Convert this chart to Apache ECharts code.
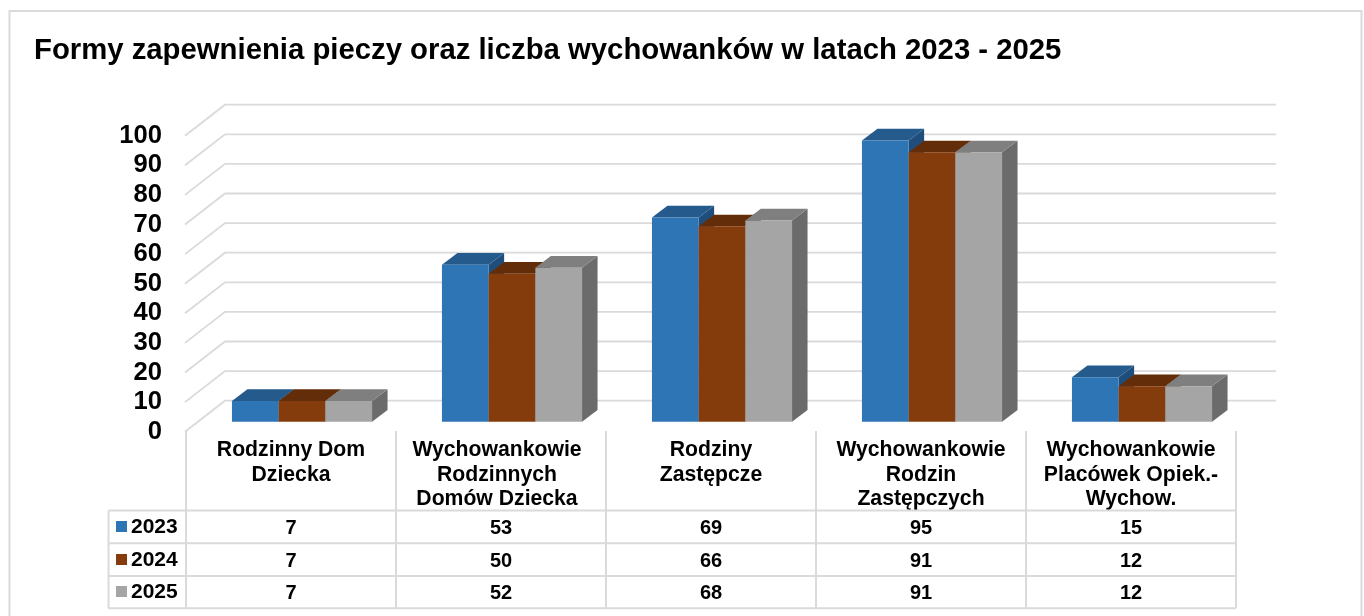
<!DOCTYPE html>
<html>
<head>
<meta charset="utf-8">
<style>html,body{margin:0;padding:0;background:#fff;overflow:hidden}#c{width:1364px;height:616px}</style>
<script src="https://cdn.jsdelivr.net/npm/echarts@6/dist/echarts.min.js"></script>
</head>
<body>
<div id="c"></div>
<script>
const titleText = 'Formy zapewnienia pieczy oraz liczba wychowanków w latach 2023 - 2025';
const categories = ['Rodzinny Dom\nDziecka', 'Wychowankowie\nRodzinnych\nDomów Dziecka', 'Rodziny\nZastępcze', 'Wychowankowie\nRodzin\nZastępczych', 'Wychowankowie\nPlacówek Opiek.-\nWychow.'];
const seriesNames = ['2023', '2024', '2025'];
const values2023 = [7, 53, 69, 95, 15];
const values2024 = [7, 50, 66, 91, 12];
const values2025 = [7, 52, 68, 91, 12];
const tickValues = [0, 10, 20, 30, 40, 50, 60, 70, 80, 90, 100];

const allValues = [values2023, values2024, values2025];
const frontColors = ['#2E75B6', '#843C0C', '#A5A5A5'];
const topColors = ['#245A8C', '#632D09', '#7F7F7F'];
const sideColors = ['#1F4E7D', '#5A2A08', '#6B6B6B'];
const FONT = '"Liberation Sans", Arial, sans-serif';
const LINE = '#DADADA';

const wallDx = 40, wallDy = 31;      // depth of the plot floor
const barDx = 15.5, barDy = 11.7;    // depth of a bar
const barShiftX = 11, barShiftY = -10; // bar plane behind the axis plane
const barWidth = 46.7;
const rowY = [528, 561, 593];
const tableLines = { left: 108.5, axis: 186, top: 431, head: 510.5, rows: [543.3, 576, 608.3] };

function faceStyle(fill) { return { fill: fill, stroke: null }; }

function renderBars(s) {
  return function (params, api) {
    const c = api.coord([api.value(0), api.value(1)]);
    const base = api.coord([api.value(0), 0]);
    const x = c[0] + barShiftX - 1.5 * barWidth + s * barWidth;
    const xr = x + barWidth;
    const yt = c[1] + barShiftY;
    const yb = base[1] + barShiftY;
    return {
      type: 'group',
      children: [
        { type: 'polygon', shape: { points: [[xr, yb], [xr + barDx, yb - barDy], [xr + barDx, yt - barDy], [xr, yt]] }, style: faceStyle(sideColors[s]) },
        { type: 'polygon', shape: { points: [[x, yt], [x + barDx, yt - barDy], [xr + barDx, yt - barDy], [xr, yt]] }, style: faceStyle(topColors[s]) },
        { type: 'rect', shape: { x: x, y: yt, width: barWidth, height: yb - yt }, style: faceStyle(frontColors[s]) },
        { type: 'text', style: { x: c[0], y: rowY[s], text: String(api.value(1)), fill: '#000', font: 'bold 20px ' + FONT, textAlign: 'center', textVerticalAlign: 'middle' } }
      ]
    };
  };
}

function renderWall(params, api) {
  const g = params.coordSys;
  const y = api.coord([0, api.value(0)])[1];
  return {
    type: 'polyline',
    shape: { points: [[g.x - 1, y], [g.x + wallDx - 1, y - wallDy], [g.x + g.width + wallDx, y - wallDy]] },
    style: { fill: null, stroke: LINE, lineWidth: 1.8 }
  };
}

const graphics = [
  { type: 'rect', shape: { x: 9.5, y: 11, width: 1352, height: 640 }, style: { fill: null, stroke: '#DADADA', lineWidth: 2 }, z: 0 }
];
for (let i = 0; i <= categories.length; i++) {
  const x = tableLines.axis + i * 210;
  graphics.push({ type: 'line', shape: { x1: x, y1: tableLines.top, x2: x, y2: tableLines.rows[2] }, style: { stroke: LINE, lineWidth: 2 }, z: 1 });
}
[tableLines.head].concat(tableLines.rows).forEach(function (y) {
  graphics.push({ type: 'line', shape: { x1: tableLines.left, y1: y, x2: tableLines.axis + 1050, y2: y }, style: { stroke: LINE, lineWidth: 2 }, z: 1 });
});
graphics.push({ type: 'line', shape: { x1: tableLines.left, y1: tableLines.head, x2: tableLines.left, y2: tableLines.rows[2] }, style: { stroke: LINE, lineWidth: 2 }, z: 1 });
seriesNames.forEach(function (n, s) {
  graphics.push({ type: 'rect', shape: { x: 116, y: rowY[s] - 7, width: 11, height: 11 }, style: { fill: frontColors[s] }, z: 2 });
  graphics.push({ type: 'text', style: { x: 131, y: rowY[s] - 1, text: n, fill: '#000', font: 'bold 21px ' + FONT, textAlign: 'left', textVerticalAlign: 'middle' }, z: 2 });
});

const series = [{
  type: 'custom', name: 'wall', coordinateSystem: 'cartesian2d', clip: false, silent: true, z: 1,
  encode: { y: 0 }, data: tickValues.map(function (v) { return [v]; }), renderItem: renderWall
}];
seriesNames.forEach(function (n, s) {
  series.push({
    type: 'custom', name: n, coordinateSystem: 'cartesian2d', clip: false, silent: true, z: 2 + s,
    encode: { x: 0, y: 1 },
    data: allValues[s].map(function (v, i) { return [i, v]; }),
    renderItem: renderBars(s)
  });
});

const chart = echarts.init(document.getElementById('c'), null, { renderer: 'canvas' });
chart.setOption({
  animation: false,
  backgroundColor: '#fff',
  title: { text: titleText, left: 34, top: 36, padding: 0, textStyle: { fontFamily: FONT, fontWeight: 'bold', fontSize: 29.3, color: '#000' } },
  grid: { left: 186, width: 1050, top: 135.7, height: 296, containLabel: false },
  xAxis: {
    type: 'category',
    data: categories.map(function (c, i) { return i === 1 ? { value: c, textStyle: { padding: [0, 8, 0, 0] } } : c; }),
    boundaryGap: true,
    axisLine: { show: false }, axisTick: { show: false }, splitLine: { show: false },
    axisLabel: { interval: 0, margin: 6.5, fontFamily: FONT, fontWeight: 'bold', fontSize: 21.2, lineHeight: 24.5, color: '#000', verticalAlign: 'top', hideOverlap: false }
  },
  yAxis: {
    type: 'value', min: 0, max: 100, interval: 10,
    axisLine: { show: false }, axisTick: { show: false }, splitLine: { show: false },
    axisLabel: { margin: 24, padding: [3, 0, 0, 0], fontFamily: FONT, fontWeight: 'bold', fontSize: 25.6, color: '#000' }
  },
  graphic: graphics,
  series: series
});
</script>
</body>
</html>
